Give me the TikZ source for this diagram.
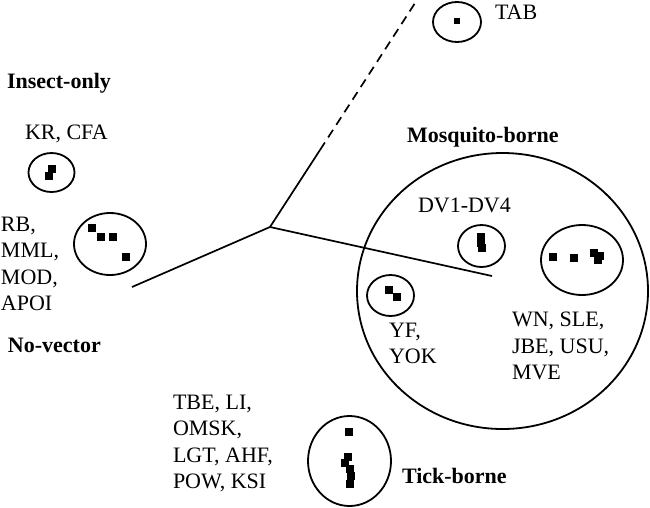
\documentclass[tikz,border=0pt]{standalone}
\usepackage{fontspec}
\setmainfont{Liberation Serif}
\usetikzlibrary{shapes.geometric}
\tikzset{
  lbl/.style={anchor=north west, inner sep=0pt, outer sep=0pt, align=left,
    font=\fontsize{22}{26.5}\selectfont},
  grp/.style={lbl, font=\fontsize{22}{26.5}\selectfont\bfseries},
  clus/.style={draw, ellipse, line width=1.8pt, inner sep=0pt},
  sq/.style={fill=black, rectangle, inner sep=0pt, minimum size=7.5pt},
  branch/.style={line width=1.7pt},
}
\begin{document}
\begin{tikzpicture}[x=1pt,y=-1pt]
\useasboundingbox (0,0) rectangle (650,507);

% tree
\coordinate (hub) at (270,227);
\coordinate (lend) at (132,287);
\coordinate (rend) at (492,276);
\coordinate (bend) at (320,150);
\coordinate (tend) at (417,0);
\draw[branch] (lend) -- (hub) -- (rend);
\draw[branch] (hub) -- (bend);
\draw[branch, dash pattern=on 9pt off 6pt] (bend) -- (tend);

% group labels
\node[grp] (insect) at (7,73) {Insect-only};
\node[grp] (novec) at (8,338) {No-vector};
\node[grp] (mosq) at (407,127) {Mosquito-borne};
\node[grp] (tick) at (402,468) {Tick-borne};

% virus labels
\node[lbl] (krl) at (25,125) {KR, CFA};
\node[lbl] (rbl) at (1,217) {RB,\\MML,\\MOD,\\APOI};
\node[lbl] (tabl) at (495,5) {TAB};
\node[lbl] (dvl) at (418,198) {DV1-DV4};
\node[lbl] (yfl) at (389,323) {YF,\\YOK};
\node[lbl] (wnl) at (512,312) {WN, SLE,\\JBE, USU,\\MVE};
\node[lbl] (tbl) at (173,395) {TBE, LI,\\OMSK,\\LGT, AHF,\\POW, KSI};

% big mosquito circle
\node[clus, minimum width=291pt, minimum height=276pt] (mbig) at (502.5,291) {};

% clusters
\node[clus, minimum width=46pt, minimum height=39pt] (kr) at (51.5,172.5) {};
\node[sq] (kr1) at (52,169) {};
\node[sq] (kr2) at (49,176) {};

\node[clus, minimum width=72pt, minimum height=62pt] (rb) at (110,244) {};
\node[sq] (rb1) at (92,228) {};
\node[sq] (rb2) at (101,237) {};
\node[sq] (rb3) at (113,237) {};
\node[sq] (rb4) at (126,257) {};

\node[clus, minimum width=48pt, minimum height=40pt] (tab) at (457,22) {};
\node[sq, minimum size=6.5pt] (tab1) at (457,21) {};

\node[clus, minimum width=47pt, minimum height=42pt] (dv) at (481.5,246) {};
\node[sq] (dv1) at (481,237) {};
\node[sq] (dv2) at (481,243) {};
\node[sq] (dv3) at (482,248) {};

\node[clus, minimum width=82pt, minimum height=70pt] (wn) at (582,260) {};
\node[sq] (wn1) at (553,257) {};
\node[sq] (wn2) at (574,258) {};
\node[sq] (wn3) at (594,253) {};
\node[sq] (wn4) at (600,256) {};
\node[sq] (wn5) at (598,260) {};

\node[clus, minimum width=47pt, minimum height=41pt] (yf) at (390.5,295.5) {};
\node[sq] (yf1) at (389,290) {};
\node[sq] (yf2) at (397,297) {};

\node[clus, minimum width=83pt, minimum height=90pt] (tk) at (349.5,461) {};
\node[sq] (tk1) at (349,432) {};
\node[sq] (tk2) at (348,457) {};
\node[sq] (tk3) at (345,463) {};
\node[sq] (tk4) at (350,469) {};
\node[sq] (tk5) at (351,476) {};
\node[sq] (tk6) at (350,484) {};
\end{tikzpicture}
\end{document}
